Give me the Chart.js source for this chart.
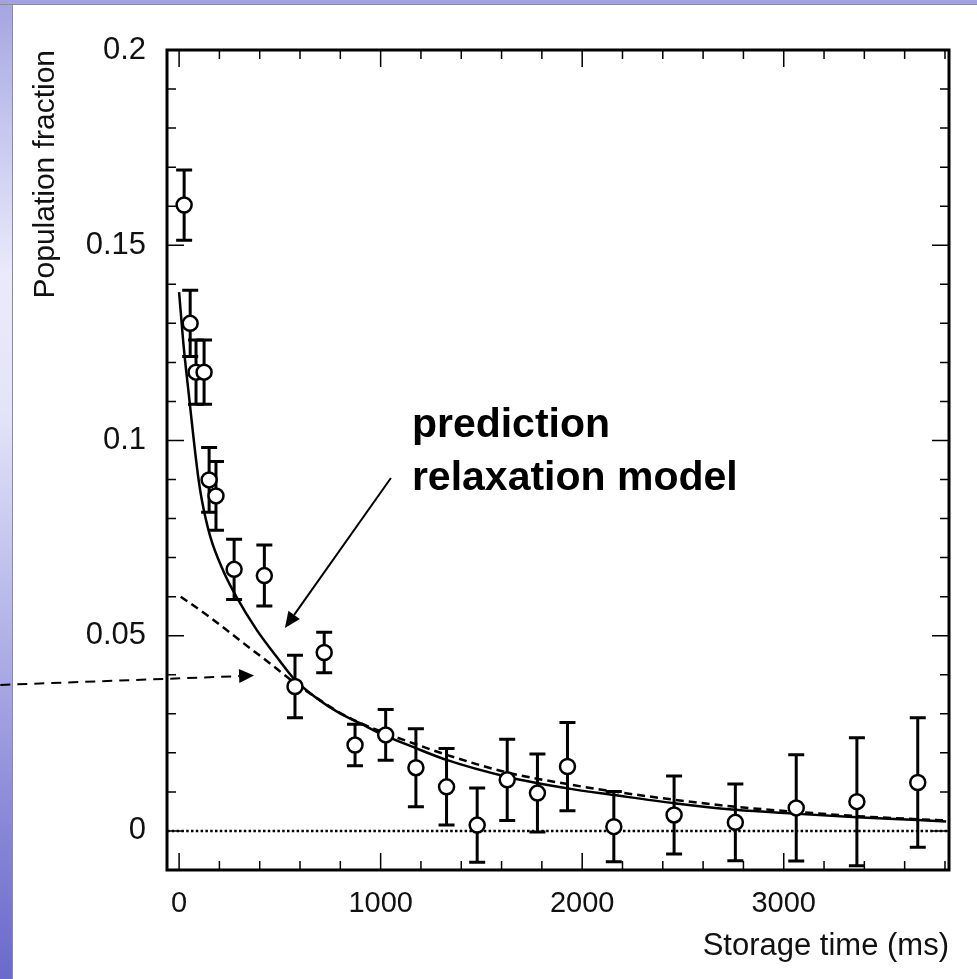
<!DOCTYPE html>
<html>
<head>
<meta charset="utf-8">
<script src="https://cdn.jsdelivr.net/npm/chart.js@4.4.0/dist/chart.umd.min.js"></script>
<style>
    html, body { margin: 0; padding: 0; background: #fff; overflow: hidden; }
    #wrap { position: relative; width: 977px; height: 979px; }
    #side { position: absolute; left: 0; top: 0; width: 12px; height: 979px;
        background: linear-gradient(#a4a4e0 0%, #c4c4ee 12%, #eaeafa 28%, #e4e4f8 42%, #b8b8ea 62%, #8c8cd8 82%, #6a6acc 100%);
        border-right: 1px solid #8c8c9c; }
    #topbar { position: absolute; left: 0; top: 0; width: 977px; height: 4px; background: #a2a2e0;
        border-bottom: 1px solid #8c8c9c; }
    canvas { position: absolute; left: 0; top: 0; }
</style>
</head>
<body>
<div id="wrap">
    <div id="side"></div>
    <div id="topbar"></div>
    <canvas id="chartDecay" width="977" height="979"></canvas>
</div>
<script>
// measured points
var timeMs = [25, 55, 84, 124, 149, 183, 273, 423, 575, 720, 873, 1025, 1175, 1327, 1479, 1628, 1778, 1927, 2157, 2456, 2760, 3062, 3363, 3665];
var fraction = [0.1603, 0.1300, 0.1175, 0.1175, 0.0899, 0.0858, 0.0670, 0.0654, 0.0370, 0.0457, 0.0220, 0.0246, 0.0162, 0.0113, 0.0015, 0.0131, 0.0097, 0.0165, 0.0011, 0.0041, 0.0022, 0.0059, 0.0075, 0.0124];
var fractionErr = [0.0090, 0.0085, 0.0082, 0.0082, 0.0083, 0.0088, 0.0077, 0.0078, 0.0080, 0.0052, 0.0053, 0.0065, 0.0100, 0.0098, 0.0095, 0.0104, 0.0100, 0.0113, 0.0090, 0.0100, 0.0098, 0.0136, 0.0164, 0.0166];

// solid curve
var fitTime = [0, 21, 52, 73, 94, 112, 154, 220, 286, 385, 484, 575, 683, 798, 897, 997, 1175, 1327, 1625, 1927, 2157, 2456, 2760, 3062, 3363, 3665, 3806];
var fitValue = [0.138, 0.125, 0.110, 0.100, 0.091, 0.085, 0.0755, 0.0665, 0.0598, 0.0515, 0.0446, 0.0387, 0.034, 0.0301, 0.0276, 0.025, 0.0212, 0.0182, 0.0139, 0.0109, 0.0092, 0.0071, 0.0054, 0.0044, 0.0035, 0.0028, 0.0024];

// dashed curve (prediction relaxation model)
var modelTime = [8, 154, 319, 451, 567, 699, 800, 900, 1000, 1175, 1327, 1625, 1927, 2157, 2456, 2760, 3062, 3363, 3665, 3806];
var modelValue = [0.060, 0.0547, 0.0481, 0.0429, 0.0382, 0.0335, 0.0302, 0.0276, 0.0255, 0.0222, 0.0195, 0.0150, 0.0120, 0.0101, 0.0080, 0.0062, 0.0049, 0.0038, 0.0030, 0.0027];

var zeroTime = [-60, 3820];
var zeroValue = [0, 0];

var xTickValues = [0, 1000, 2000, 3000];
var xTickLabels = ["0", "1000", "2000", "3000"];
var yTickValues = [0, 0.05, 0.1, 0.15, 0.2];
var yTickLabels = ["0", "0.05", "0.1", "0.15", "0.2"];
var noteLines = ["prediction", "relaxation model"];

function pairs(xs, ys) {
    return xs.map(function(x, i) { return { x: x, y: ys[i] }; });
}

var fontFamily = "'Liberation Sans', Arial, Helvetica, sans-serif";

// error bars go under the circles
var errorBars = {
    id: "errorBars",
    beforeDatasetsDraw: function(chart) {
        var ctx = chart.ctx, sx = chart.scales.x, sy = chart.scales.y;
        ctx.save();
        ctx.strokeStyle = "#000";
        ctx.lineWidth = 3;
        for (var i = 0; i < timeMs.length; i++) {
            var px = sx.getPixelForValue(timeMs[i]);
            var top = sy.getPixelForValue(fraction[i] + fractionErr[i]);
            var bot = sy.getPixelForValue(fraction[i] - fractionErr[i]);
            ctx.beginPath();
            ctx.moveTo(px, top); ctx.lineTo(px, bot);
            ctx.moveTo(px - 8, top); ctx.lineTo(px + 8, top);
            ctx.moveTo(px - 8, bot); ctx.lineTo(px + 8, bot);
            ctx.stroke();
        }
        ctx.restore();
    }
};

// box frame with inward ticks on all four sides
var frame = {
    id: "frame",
    afterDatasetsDraw: function(chart) {
        var ctx = chart.ctx, a = chart.chartArea, sx = chart.scales.x, sy = chart.scales.y;
        var v, p, len;
        ctx.save();
        ctx.strokeStyle = "#000";
        ctx.lineWidth = 1.5;
        ctx.beginPath();
        for (v = 0; v <= 3800; v += 200) {
            p = sx.getPixelForValue(v);
            len = v % 1000 === 0 ? 17 : 9;
            ctx.moveTo(p, a.bottom); ctx.lineTo(p, a.bottom - len);
            ctx.moveTo(p, a.top); ctx.lineTo(p, a.top + len);
        }
        for (var k = 0; k <= 19; k++) {
            p = sy.getPixelForValue(k / 100);
            len = k % 5 === 0 ? 17 : 9;
            ctx.moveTo(a.left, p); ctx.lineTo(a.left + len, p);
            ctx.moveTo(a.right, p); ctx.lineTo(a.right - len, p);
        }
        ctx.stroke();
        ctx.lineWidth = 3;
        ctx.strokeRect(a.left, a.top, a.right - a.left, a.bottom - a.top);
        ctx.restore();
    }
};

function arrow(ctx, x1, y1, x2, y2, dash, headLen, headHalf) {
    var ang = Math.atan2(y2 - y1, x2 - x1);
    var bx = x2 - headLen * Math.cos(ang), by = y2 - headLen * Math.sin(ang);
    ctx.save();
    ctx.setLineDash(dash);
    ctx.beginPath();
    ctx.moveTo(x1, y1); ctx.lineTo(bx, by);
    ctx.stroke();
    ctx.setLineDash([]);
    ctx.beginPath();
    ctx.moveTo(x2, y2);
    ctx.lineTo(bx + headHalf * Math.sin(ang), by - headHalf * Math.cos(ang));
    ctx.lineTo(bx - headHalf * Math.sin(ang), by + headHalf * Math.cos(ang));
    ctx.closePath();
    ctx.fill();
    ctx.restore();
}

var notes = {
    id: "notes",
    afterDraw: function(chart) {
        var ctx = chart.ctx, sx = chart.scales.x, sy = chart.scales.y;
        ctx.save();
        ctx.fillStyle = "#000";
        ctx.strokeStyle = "#000";
        ctx.font = "bold 41px " + fontFamily;
        ctx.textAlign = "left";
        ctx.textBaseline = "alphabetic";
        ctx.fillText(noteLines[0], sx.getPixelForValue(1155), sy.getPixelForValue(0.1009));
        ctx.fillText(noteLines[1], sx.getPixelForValue(1155), sy.getPixelForValue(0.0873));
        ctx.lineWidth = 2;
        arrow(ctx, sx.getPixelForValue(1051), sy.getPixelForValue(0.0904),
            sx.getPixelForValue(525), sy.getPixelForValue(0.052), [], 16, 7);
        arrow(ctx, sx.getPixelForValue(-887), sy.getPixelForValue(0.0374),
            sx.getPixelForValue(372), sy.getPixelForValue(0.0398), [10, 7], 15, 7);
        ctx.restore();
    }
};

var ctx = document.getElementById("chartDecay");
var chart = new Chart(ctx, {
    type: "scatter",
    data: {
        datasets: [{
                data: pairs(timeMs, fraction),
                pointStyle: "circle",
                pointRadius: 7.5,
                pointBackgroundColor: "#fff",
                pointBorderColor: "#000",
                pointBorderWidth: 2.5,
                showLine: false,
            },
            {
                data: pairs(fitTime, fitValue),
                showLine: true,
                borderColor: "#000",
                borderWidth: 2.5,
                pointRadius: 0,
                cubicInterpolationMode: "monotone",
            },
            {
                data: pairs(modelTime, modelValue),
                showLine: true,
                borderColor: "#000",
                borderWidth: 2.5,
                borderDash: [8, 5],
                pointRadius: 0,
                cubicInterpolationMode: "monotone",
            },
            {
                data: pairs(zeroTime, zeroValue),
                showLine: true,
                borderColor: "#000",
                borderWidth: 2.5,
                borderDash: [2.5, 2.3],
                pointRadius: 0,
            },
        ],
    },
    options: {
        responsive: false,
        animation: false,
        devicePixelRatio: 1,
        layout: {
            padding: { top: 50, right: 28, left: 0, bottom: 0 },
        },
        plugins: {
            legend: { display: false },
            tooltip: { enabled: false },
        },
        scales: {
            x: {
                type: "linear",
                min: -60,
                max: 3820,
                grid: { display: false, drawTicks: false },
                border: { display: false },
                afterBuildTicks: function(scale) {
                    scale.ticks = xTickValues.map(function(v) { return { value: v }; });
                },
                afterFit: function(scale) { scale.height = 109; },
                ticks: {
                    autoSkip: false,
                    maxRotation: 0,
                    padding: 17,
                    color: "#111",
                    font: { family: fontFamily, size: 29 },
                    callback: function(value, index) { return xTickLabels[index]; },
                },
                title: {
                    display: true,
                    text: "Storage time (ms)",
                    align: "end",
                    color: "#111",
                    font: { family: fontFamily, size: 31 },
                    padding: { top: 14, bottom: 14 },
                },
            },
            y: {
                type: "linear",
                min: -0.01,
                max: 0.2,
                grid: { display: false, drawTicks: false },
                border: { display: false },
                afterBuildTicks: function(scale) {
                    scale.ticks = yTickValues.map(function(v) { return { value: v }; });
                },
                afterFit: function(scale) { scale.width = 167; },
                ticks: {
                    autoSkip: false,
                    padding: 21,
                    color: "#111",
                    font: { family: fontFamily, size: 31 },
                    callback: function(value, index) { return yTickLabels[index]; },
                },
                title: {
                    display: true,
                    text: "Population fraction",
                    align: "end",
                    color: "#111",
                    font: { family: fontFamily, size: 30 },
                    padding: { top: 28, bottom: 0 },
                },
            },
        },
    },
    plugins: [errorBars, frame, notes],
});
</script>
</body>
</html>
